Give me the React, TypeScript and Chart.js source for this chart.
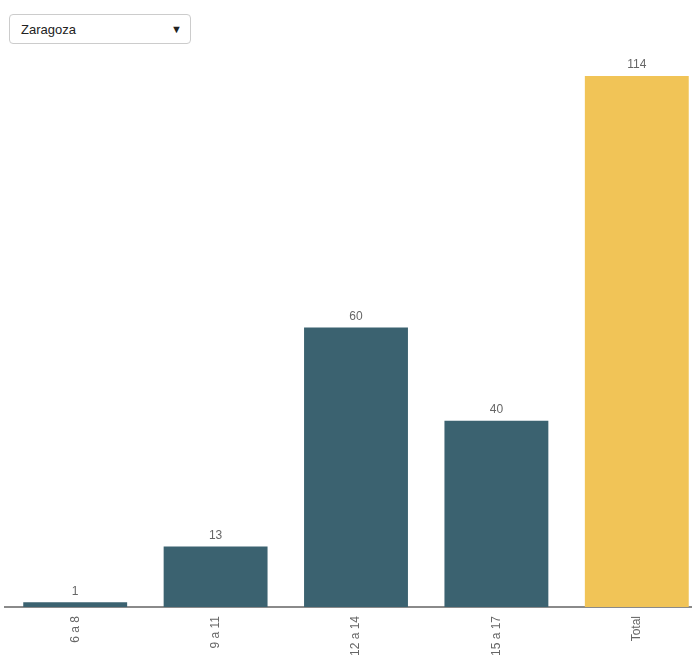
import React, { useEffect, useRef } from "react";
import { Chart, registerables } from "chart.js";

Chart.register(...registerables);

const categories = ["6 a 8", "9 a 11", "12 a 14", "15 a 17", "Total"];
const values = [1, 13, 60, 40, 114];
const barColors = ["#3b6270", "#3b6270", "#3b6270", "#3b6270", "#f1c457"];
const selectedCity = "Zaragoza";

const valueLabels = {
  id: "valueLabels",
  afterDatasetsDraw(chart: any) {
    const ctx = chart.ctx;
    const meta = chart.getDatasetMeta(0);
    ctx.save();
    ctx.font = "12px 'Liberation Sans', Arial, sans-serif";
    ctx.fillStyle = "#666";
    ctx.textAlign = "center";
    ctx.textBaseline = "bottom";
    meta.data.forEach((bar: any, i: number) => {
      ctx.fillText(String(values[i]), bar.x, bar.y - 5);
    });
    ctx.restore();
  },
};

export default function App() {
  const ref = useRef<HTMLCanvasElement | null>(null);
  useEffect(() => {
    if (!ref.current) return;
    const chart = new Chart(ref.current, {
      type: "bar",
      data: {
        labels: categories,
        datasets: [
          {
            data: values,
            backgroundColor: barColors,
            categoryPercentage: 1,
            barPercentage: 0.74,
          },
        ],
      },
      options: {
        animation: false,
        responsive: false,
        maintainAspectRatio: false,
        layout: { padding: { top: 26, left: 5, right: 5, bottom: 0 } },
        plugins: { legend: { display: false }, tooltip: { enabled: false } },
        scales: {
          y: { display: false, min: 0, max: 114 },
          x: {
            grid: { display: false, drawTicks: false },
            border: { display: true, color: "#8a8a8a", width: 2 },
            afterFit(scale: any) {
              scale.height = 57;
            },
            ticks: {
              color: "#666",
              font: { family: "'Liberation Sans', Arial, sans-serif", size: 12 },
              maxRotation: 90,
              minRotation: 90,
              padding: 9,
              autoSkip: false,
            },
          },
        },
      },
      plugins: [valueLabels],
    });
    return () => chart.destroy();
  }, []);

  return (
    <div
      style={{
        position: "fixed",
        left: 0,
        top: 0,
        width: 692,
        height: 664,
        overflow: "hidden",
        background: "#fff",
        fontFamily: "'Liberation Sans', Arial, sans-serif",
      }}
    >
      <div
        style={{
          position: "absolute",
          left: 9,
          top: 14,
          width: 182,
          height: 30,
          boxSizing: "border-box",
          border: "1px solid #ccc",
          borderRadius: 4,
          background: "#fff",
          fontSize: 13,
          color: "#222",
          display: "flex",
          alignItems: "center",
          justifyContent: "space-between",
          padding: "0 8px 0 11px",
        }}
      >
        <span>{selectedCity}</span>
        <span style={{ fontSize: 11 }}>▼</span>
      </div>
      <canvas
        ref={ref}
        width={712}
        height={614}
        style={{ position: "absolute", left: 0, top: 50, width: 712, height: 614 }}
      />
    </div>
  );
}
